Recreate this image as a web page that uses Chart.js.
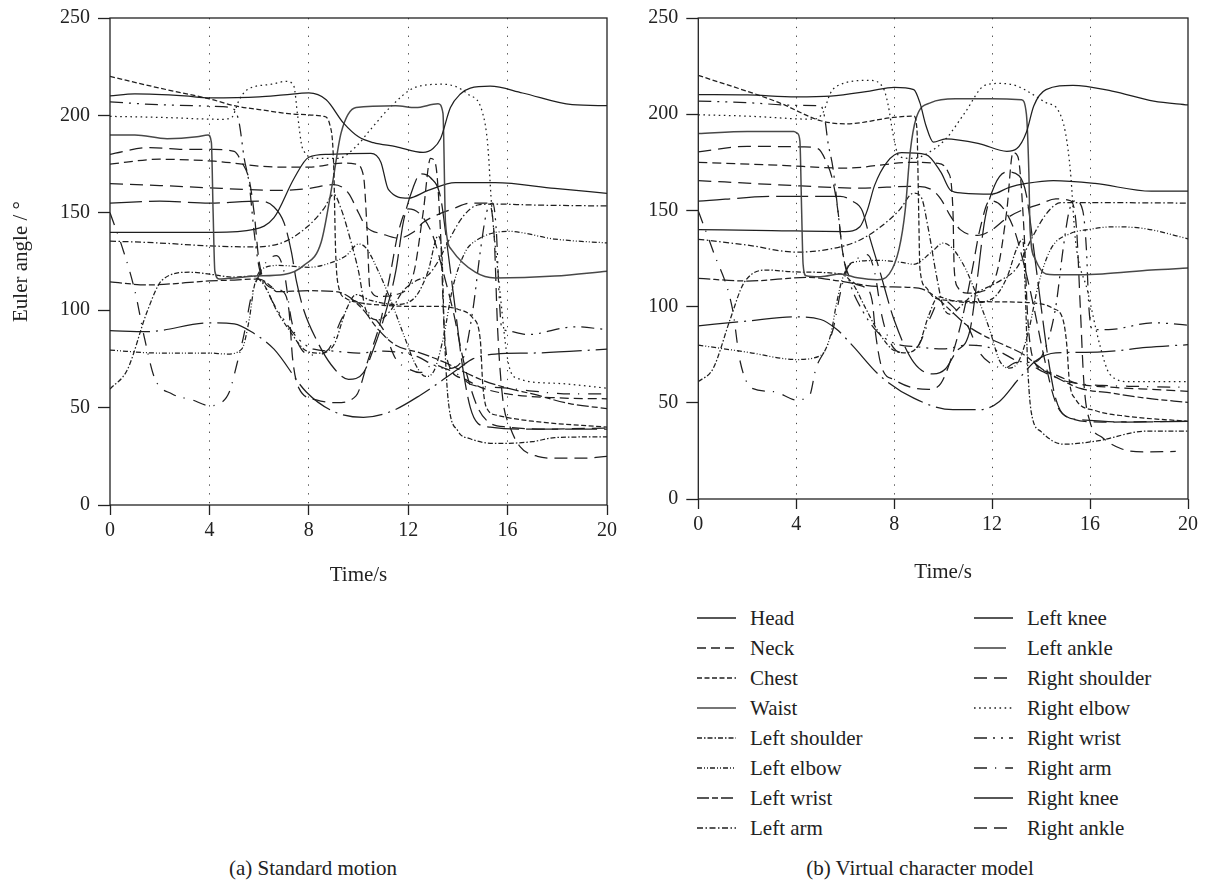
<!DOCTYPE html>
<html>
<head>
<meta charset="utf-8">
<title>Euler angle curves</title>
<script src="https://cdn.jsdelivr.net/npm/chart.js@4.4.1/dist/chart.umd.min.js"></script>
<style>
  body { margin: 0; background: #fff; }
  #page { position: relative; width: 1209px; height: 882px; overflow: hidden; background: #fff;
          font-family: "Liberation Serif", "DejaVu Serif", serif; color: #222; }
  canvas { position: absolute; top: 0; }
  #chartA { left: 0; }
  #chartB { left: 620px; }
  .legend-row { position: absolute; height: 24px; font-size: 21px; line-height: 24px; white-space: nowrap; }
  .legend-row svg { position: absolute; left: 0; top: 7px; }
  .legend-row span { position: absolute; left: 53px; top: 0; }
  .caption { position: absolute; top: 856px; font-size: 21px; line-height: 24px; white-space: nowrap; transform: translateX(-50%); }
</style>
</head>
<body>
<div id="page">
  <canvas id="chartA" width="640" height="600"></canvas>
  <canvas id="chartB" width="589" height="600"></canvas>
  <div id="legend"></div>
  <div class="caption" style="left:313px">(a) Standard motion</div>
  <div class="caption" style="left:920px">(b) Virtual character model</div>
</div>
<script>
// Euler angle of each joint over time, [time (s), angle (deg)]

const seriesNames = ["Head", "Neck", "Chest", "Waist", "Left shoulder", "Left elbow", "Left wrist", "Left arm",
                     "Left knee", "Left ankle", "Right shoulder", "Right elbow", "Right wrist", "Right arm", "Right knee", "Right ankle"];
const xTicks = [0, 4, 8, 12, 16, 20];
const yTicks = [0, 50, 100, 150, 200, 250];

// (a) Standard motion
const headA = [[0,210],[1,211],[3,210],[4,209],[6,209.5],[7,210.5],[8,211.5],[8.7,208],[9.4,196],[10,189],[10.6,186],[11.5,184],[12.6,181],[13,183],[13.3,188],[13.7,204],[14.1,211],[14.5,214],[15.3,215],[16.6,211.5],[18.6,205.5],[20,205]];
const neckA = [[0,175],[2,177.5],[4.2,176.5],[6.7,173.5],[8,173.5],[9.4,175.5],[9.9,175],[10.2,169],[10.35,140],[10.45,112],[10.8,107],[11.5,108],[12.2,118],[12.6,150],[12.9,178],[13.1,175],[13.3,140],[13.45,90],[13.7,70],[14.2,65],[15,60],[16,57],[18,55],[20,54.5]];
const chestA = [[0,220],[2,214],[4,208.5],[5,205],[6,203],[7.65,200.5],[8.6,199.5],[8.85,195],[9,175],[9.08,130],[9.2,112],[9.5,106],[10,104],[11,102.5],[12,102],[13,102],[14,100.5],[14.6,96],[14.9,85],[15,62],[15.15,50],[15.6,46],[17,43],[20,40]];
const waistA = [[0,190],[1,190],[2.3,188],[3.5,189],[3.95,190],[4.08,186],[4.15,150],[4.22,120],[4.4,116],[5,116.5],[5.8,117.5],[7,118.3],[7.8,123],[8.5,135],[8.95,165],[9.3,191],[9.9,204],[11.5,205],[12.3,204],[13.2,206],[13.4,201],[13.5,145],[13.75,131],[14.7,119.5],[15.5,116.5],[17.9,117.5],[20,120]];
const leftShoulderA = [[0,59.5],[0.7,69.5],[1.5,99.5],[2.1,115.5],[3.2,119.5],[4,118.5],[5,117],[5.7,117.5],[6.2,113],[6.7,100],[7.2,90],[7.8,80],[8.4,78],[9,82],[9.5,100],[9.9,108],[10.5,105],[11.5,103],[12.3,107],[12.8,120],[13.2,138],[13.35,130],[13.45,90],[13.6,55],[14,38],[14.5,34],[15.5,31.6],[17,32.5],[17.9,34.6],[20,35]];
const leftElbowA = [[0,79.5],[2,78],[4,78],[4.7,77.5],[5.3,80],[5.6,95],[5.8,112],[6.1,121],[6.8,123],[8,122],[8.8,124],[9.5,128],[10,134],[10.3,132],[10.8,120],[11.3,105],[11.8,88],[12.3,72],[12.7,66],[13,68],[13.4,85],[13.8,112],[14.3,130],[14.7,135.5],[16,140.5],[17.9,136.5],[20,134.5]];
const leftWristA = [[0,114.5],[1.5,113],[4,115],[5,115.5],[6,116],[6.5,112],[6.7,109.5],[8,110],[9.1,109.5],[9.6,107],[10.2,100],[10.8,90],[11.5,82],[12.5,78],[13.5,73],[14.3,68],[15,64],[16,60],[17,57],[18.5,52],[20,49.5]];
const leftArmA = [[0,135.5],[2,134.5],[4,133],[5.8,132.5],[7,135],[8,143.5],[8.6,152],[9,159.5],[9.3,152],[9.7,135],[10,120],[10.3,100],[10.8,95],[11.3,100],[11.8,110],[12.3,115],[12.8,118],[13.2,125],[13.6,135],[14.2,148],[14.8,154],[15.5,154.5],[17,154],[20,153.5]];
const leftKneeA = [[0,140],[4.2,140],[5.8,141.5],[6.6,147.5],[7.4,167.5],[8,178.5],[8.8,180],[10.5,180.5],[10.9,176],[11.2,162],[12,157.5],[12.8,161.5],[13.9,165.5],[15.5,165.5],[17.9,162.5],[20,160]];
const leftAnkleA = [[0,155],[2,156],[4,155],[6,156],[6.6,153],[7,145],[7.3,130],[7.5,115],[7.8,100],[8.3,85],[8.9,72],[9.6,64.5],[10.2,68],[10.6,80],[11,95],[11.5,120],[11.8,145],[12.2,163],[12.5,170],[12.9,168],[13.3,158],[13.6,130],[13.9,100],[14.2,70],[14.5,50],[14.8,42],[15.3,40],[16.5,39],[20,39]];
const rightShoulderA = [[0,180],[1.6,183.5],[3.2,182.5],[4.2,182.5],[5,181.5],[5.3,176],[5.6,167],[5.8,150],[6,125],[6.4,112],[6.9,110],[7.2,100],[7.35,75],[7.6,60],[8.3,54],[9.1,52.5],[9.9,56],[10.4,75],[10.9,95],[11.3,120],[11.6,140],[12,152],[12.5,149],[13,138],[13.4,120],[13.8,100],[14.3,70],[14.8,50],[15.3,42],[16,40],[17.5,39],[20,39.5]];
const rightElbowA = [[0,199.5],[2,199],[4.5,198],[4.9,199],[5.2,208],[5.5,213],[6.5,216],[7.1,217.5],[7.4,215],[7.55,200],[7.75,183],[8.3,178],[9.2,178],[9.9,184],[10.5,193],[11.3,204.5],[12.3,214.5],[13.4,216],[14.4,211],[15,201],[15.2,185],[15.35,155],[15.65,115],[16,75],[16.3,65.5],[17.9,62.5],[20,60]];
const rightWristA = [[0,207],[2,205.5],[4.5,204.5],[5,203],[5.2,196],[5.4,178],[5.6,165],[5.8,140],[6,122],[6.4,108],[7,95],[7.6,85],[8.2,80],[9,79],[10,78],[11,79],[11.8,78],[12.4,76],[13,72],[13.6,70],[14.2,75],[14.6,100],[14.9,130],[15.15,150],[15.4,155],[15.55,140],[15.65,110],[15.75,92],[16,89.5],[16.8,87.5],[18.7,91.5],[20,90]];
const rightArmA = [[0,150],[0.5,132],[1,110],[1.4,85],[1.8,65],[2.5,57],[3.3,54],[4,51],[4.4,52],[4.8,58],[5.1,72],[5.4,88],[5.7,108],[6,118],[6.3,125],[6.7,128],[7,120],[7.3,95],[7.7,80],[8.2,77],[8.8,80],[9.3,95],[9.8,105],[10.3,100],[11,90],[11.5,75],[12,70],[12.5,68],[13,72],[13.5,70],[14,67],[14.5,62],[15.3,60.5],[16,60],[17,58.5],[18.5,57],[20,57]];
const rightKneeA = [[0,89.5],[1.5,89],[4,93.5],[5,93],[5.8,88],[6.6,80],[7.9,58],[9,48],[10.2,45],[11.3,48],[12.5,56.5],[14,69.7],[14.6,75],[15.5,77.5],[17,78],[20,80]];
const rightAnkleA = [[0,165],[2,164],[4.5,162.5],[6.7,161.5],[8,162.5],[9,164.5],[9.6,160],[10,150],[10.3,143],[11,139],[11.6,137],[12.2,140],[12.6,145],[13,148],[13.8,152],[14.5,155],[15.2,155],[15.45,140],[15.6,90],[15.8,55],[16.1,40],[16.5,30],[17.2,25],[18,24],[19,24],[20,25]];

// (b) Virtual character model
const headB = [[0,210.2],[2,210],[4,209],[5.4,209.4],[7,212],[8,214],[8.8,212.8],[9.05,206],[9.3,194],[9.6,185.5],[10.1,187.2],[11.5,184.6],[12.6,180.7],[13,182],[13.4,190.6],[13.7,204.3],[14.2,212.8],[15.3,215],[16.9,212],[18.6,206.8],[20,204.8]];
const neckB = [[0,175],[3.3,173.5],[6,172],[8.8,175],[9.8,174.5],[10.2,170],[10.4,150],[10.45,120],[10.6,110],[11,107],[11.6,108],[12.2,118],[12.6,150],[12.85,180],[13.05,178],[13.3,140],[13.45,95],[13.7,72],[14.3,66],[15.5,60],[17,58],[18.5,57],[20,56]];
const chestB = [[0,220.2],[3.3,206],[5,196.6],[6.05,195],[7.96,198.3],[8.8,199],[8.93,192],[9,150],[9.05,120],[9.3,110],[9.6,105],[10.5,103],[12,102.5],[13.6,102],[14.5,99],[14.9,93],[15.05,80],[15.15,62],[15.4,52],[16.2,46],[17.5,43],[20,40.4]];
const waistB = [[0,190],[2,191],[3.9,191],[4.05,190],[4.15,186],[4.22,150],[4.28,122],[4.4,116],[5,115.5],[5.8,117],[6.5,115],[7.3,114],[7.8,117],[8.2,130],[8.45,150],[8.65,180],[8.9,198],[9.5,206],[10.5,208],[12,208],[13.2,207.5],[13.4,200],[13.5,170],[13.55,140],[13.75,125],[14.2,117],[15,116.5],[16.5,117],[18.5,119],[20,120]];
const leftShoulderB = [[0,61],[0.6,67.7],[1.3,93.3],[1.85,112],[2.8,119],[4,118],[5.8,117],[6.3,112],[6.8,100],[7.3,88],[7.9,78],[8.4,76],[9,80],[9.4,95],[9.8,105],[10.4,103],[11.2,102],[12,104],[12.6,115],[13,130],[13.25,135],[13.35,110],[13.45,70],[13.6,45],[14,35],[14.9,28.5],[16.3,30.2],[18.3,35.3],[20,35.3]];
const leftElbowB = [[0,80],[2,76.3],[4,72.5],[5,74.6],[5.4,85],[5.65,102],[5.9,115],[6.3,123],[7.4,124],[8.3,123],[8.8,122],[9.5,128],[10,133],[10.4,130],[10.9,120],[11.4,105],[11.9,88],[12.3,72],[12.7,68],[13.1,72],[13.5,88],[13.9,112],[14.4,130],[15.2,138],[15.9,140],[17,141.5],[18.3,140.4],[20,135.2]];
const leftWristB = [[0,114.7],[2,113.3],[4.5,115.2],[5.5,113.8],[7.4,110.4],[9,109.6],[9.6,106],[10.3,98],[11,90],[11.8,84],[12.5,80],[13.3,75],[14,68],[14.8,62],[15.6,57.5],[16.9,55],[18.3,52.4],[20,50.2]];
const leftArmB = [[0,135],[2,132],[4,128.3],[5.4,130],[6.5,134],[7.4,141],[8.2,150],[8.8,159],[9.1,157],[9.4,140],[9.7,118],[10,100],[10.3,96],[10.7,100],[11.2,106],[11.8,110],[12.4,114],[13,120],[13.6,135],[14.2,148],[14.8,154],[15.5,154],[17,154],[20,153.8]];
const leftKneeB = [[0,140],[3,139.5],[6,139],[6.6,141.5],[6.9,150],[7.2,163],[7.7,175],[8.3,180],[9.3,179],[9.9,170],[10.3,160.5],[10.8,159],[12,158.5],[12.7,162],[13.4,164],[14.5,165.5],[16.2,164],[18.5,160],[20,160]];
const leftAnkleB = [[0,154.8],[3.3,157.3],[5.8,157.3],[6.3,154.8],[6.7,149.7],[7,136],[7.4,119],[8,93],[8.8,71],[9.6,65],[10.1,67.7],[10.5,76],[11.1,88],[11.4,115],[11.7,145],[12.1,163],[12.6,170],[13.1,168],[13.4,158],[13.7,130],[14,100],[14.3,72],[14.6,52],[15,43],[15.8,41],[17.5,40],[20,40.4]];
const rightShoulderB = [[0,180.4],[2,183.3],[4.3,183],[4.9,182],[5.2,176],[5.5,165],[5.7,150],[5.9,128],[6.3,113],[6.8,110],[7.1,103],[7.25,85],[7.5,68],[8,62],[8.7,58],[9.4,57],[9.9,60],[10.3,72],[10.8,95],[11.2,120],[11.5,140],[11.9,155],[12.4,152],[12.9,140],[13.3,122],[13.7,100],[14.1,75],[14.6,50],[15.2,42],[16.5,40],[20,40.4]];
const rightElbowB = [[0,199.7],[2,199],[4.7,197.4],[5.1,201],[5.4,211],[5.65,214.5],[7,217.6],[7.55,213.7],[7.75,205],[7.95,190],[8.2,178],[8.8,177],[9.4,180],[10.1,187],[10.9,201],[11.7,215],[12.3,216],[13,214.7],[14.2,206],[14.7,202],[15,190],[15.2,170],[15.4,135],[15.9,108],[16.4,80],[16.8,65],[17.6,61],[20,61]];
const rightWristB = [[0,206.8],[2,206],[4,204.6],[5,204.3],[5.15,199],[5.3,185],[5.5,172],[5.7,150],[5.9,128],[6.2,112],[6.7,98],[7.3,87],[8,81],[9,79],[10,78],[11,80],[11.8,79],[12.4,76],[13,72],[13.6,71],[14.1,76],[14.6,100],[14.9,130],[15.15,150],[15.4,155],[15.7,150],[15.85,130],[15.95,100],[16.1,88],[16.9,88.2],[18.6,91.6],[20,90.3]];
const rightArmB = [[0,149.7],[0.6,129],[1.4,98.5],[1.7,72],[2.2,57.5],[3.1,55.8],[4,51.5],[4.55,54],[4.8,67.7],[5.2,78],[5.5,88],[5.8,107],[6.05,119],[6.4,124],[6.9,127],[7.2,118],[7.5,95],[7.9,80],[8.4,76],[9,80],[9.5,95],[9.9,104],[10.4,100],[11,90],[11.5,76],[12,70],[12.5,68],[13,71],[13.5,70],[14.1,66],[14.8,62],[15.5,60],[16.5,59],[18,58.5],[20,58]];
const rightKneeB = [[0,90],[2,92.5],[3.9,94.7],[5,93.3],[5.65,88.2],[6.3,79.7],[7.4,64.3],[8.8,52.4],[10.4,46.4],[11.5,46.4],[12.3,50.7],[13.1,62.6],[13.8,72],[14.6,76],[16.3,76.3],[18.3,78.8],[20,80.2]];
const rightAnkleB = [[0,165.5],[3.3,163.3],[6.6,161.6],[8.8,162.5],[9.5,161],[9.9,156],[10.3,147],[10.7,140],[11.4,137],[12,140],[12.6,146],[13.2,150],[13.9,153],[14.6,156],[15.2,155],[15.45,140],[15.6,100],[15.75,60],[16,40],[16.5,32],[17.3,26],[18.3,24.5],[19.5,24.7]];

const standardMotion = [headA, neckA, chestA, waistA, leftShoulderA, leftElbowA, leftWristA, leftArmA,
                        leftKneeA, leftAnkleA, rightShoulderA, rightElbowA, rightWristA, rightArmA, rightKneeA, rightAnkleA];
const virtualModel = [headB, neckB, chestB, waistB, leftShoulderB, leftElbowB, leftWristB, leftArmB,
                      leftKneeB, leftAnkleB, rightShoulderB, rightElbowB, rightWristB, rightArmB, rightKneeB, rightAnkleB];

// line look for each joint (same order as names)
const dashes = [[], [9, 5], [5, 2.5], [], [5, 2, 1.5, 2], [5, 2, 1, 2, 1, 2], [12, 3, 6, 3], [6, 2.5, 1.5, 2.5],
                [], [32, 7], [13, 7], [1.6, 3.5], [13, 6, 2, 6, 2, 6], [13, 8, 1.2, 9], [40, 6, 2, 6], [13, 7]];
const ink = "#1f1f1f";
const waistInk = "#484848";

const serif = "'Liberation Serif', 'DejaVu Serif', serif";
const tickFont = { family: serif, size: 20, lineHeight: 1 };
const titleFont = { family: serif, size: 21, lineHeight: 1.2 };

// box around the plotting area
const framePlugin = {
    id: "frame",
    afterDatasetsDraw(chart) {
        const { ctx, chartArea: a } = chart;
        ctx.save();
        ctx.strokeStyle = "#222";
        ctx.lineWidth = 1.3;
        ctx.strokeRect(a.left, a.top, a.right - a.left, a.bottom - a.top);
        ctx.restore();
    }
};

function buildDatasets(series) {
    return series.map((pts, i) => ({
        label: seriesNames[i],
        data: pts,
        borderColor: i === 3 ? waistInk : ink,
        borderWidth: i === 3 ? 1.5 : 1.25,
        borderDash: dashes[i],
        pointRadius: 0,
        fill: false,
        cubicInterpolationMode: "monotone"
    }));
}

function buildOptions(cfg) {
    return {
        responsive: false,
        animation: false,
        layout: { padding: { left: 0, top: cfg.top, right: cfg.right, bottom: 0 } },
        plugins: { legend: { display: false }, tooltip: { enabled: false } },
        scales: {
            x: {
                type: "linear", min: 0, max: 20,
                afterBuildTicks: s => { s.ticks = xTicks.map(v => ({ value: v })); },
                afterFit: s => { s.height = cfg.xHeight; },
                ticks: { font: { family: serif, size: 20, lineHeight: 1.2 }, color: "#222", padding: 4, maxRotation: 0 },
                grid: {
                    color: c => (c.tick && (c.tick.value === 0 || c.tick.value === 20)) ? "rgba(0,0,0,0)" : "#444",
                    lineWidth: 1, tickColor: "#222", tickWidth: 1.3, tickLength: 10, tickBorderDash: []
                },
                border: { display: false, dash: [1.3, 7.5] },
                title: { display: true, text: "Time/s", font: titleFont, color: "#222", padding: { top: 0, bottom: cfg.titlePad } }
            },
            y: {
                type: "linear", min: 0, max: 250,
                afterBuildTicks: s => { s.ticks = yTicks.map(v => ({ value: v })); },
                afterFit: s => { s.width = cfg.yWidth; },
                ticks: { font: tickFont, color: "#222", padding: 8 },
                grid: { drawOnChartArea: false, tickColor: "#222", tickWidth: 1.3, tickLength: 12 },
                border: { display: false },
                title: { display: cfg.yTitle, text: "Euler angle / °", font: titleFont, color: "#222", padding: { top: 9, bottom: 0 } }
            }
        }
    };
}

new Chart(document.getElementById("chartA"), {
    type: "line",
    data: { datasets: buildDatasets(standardMotion) },
    options: buildOptions({ top: 10, right: 33, xHeight: 95, yWidth: 110, titlePad: 12, yTitle: true }),
    plugins: [framePlugin]
});

new Chart(document.getElementById("chartB"), {
    type: "line",
    data: { datasets: buildDatasets(virtualModel) },
    options: buildOptions({ top: 10.7, right: 21, xHeight: 101, yWidth: 78.3, titlePad: 15, yTitle: false }),
    plugins: [framePlugin]
});

// two-column legend under panel (b)
const legend = document.getElementById("legend");
seriesNames.forEach((name, i) => {
    const col = i < 8 ? 0 : 1;
    const row = i % 8;
    const div = document.createElement("div");
    div.className = "legend-row";
    div.style.left = (col ? 974 : 697) + "px";
    div.style.top = (618 + 30 * row - 12) + "px";
    const color = i === 3 ? waistInk : ink;
    div.innerHTML = `<svg width="40" height="10"><line x1="0" y1="5" x2="39" y2="5" stroke="${color}" stroke-width="${i === 3 ? 1.5 : 1.3}" stroke-dasharray="${dashes[i].join(" ") || "none"}"/></svg><span>${name}</span>`;
    legend.appendChild(div);
});
</script>
</body>
</html>
